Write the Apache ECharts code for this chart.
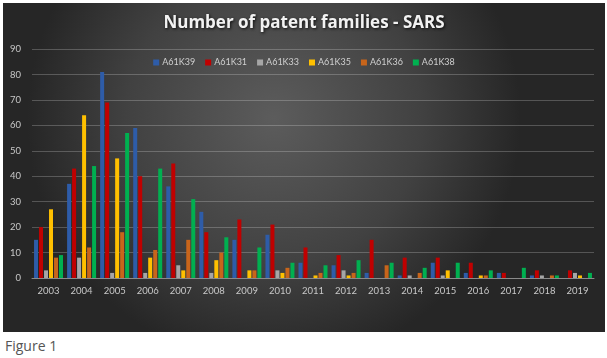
<!DOCTYPE html>
<html><head><meta charset="utf-8">
<script src="https://cdn.jsdelivr.net/npm/echarts@6/dist/echarts.min.js"></script>
<style>
html,body{margin:0;padding:0;background:#fff;width:607px;height:358px;overflow:hidden;}
#chart{position:absolute;left:3px;top:3px;width:602px;height:329px;}
#cap{position:absolute;left:5px;top:336px;font-family:"Open Sans",sans-serif;font-size:14px;color:#555;}
</style></head>
<body>
<div id="chart"></div>
<div id="cap">Figure 1</div>
<script>
const years = ['2003','2004','2005','2006','2007','2008','2009','2010','2011','2012','2013','2014','2015','2016','2017','2018','2019'];
const seriesNames = ['A61K39','A61K31','A61K33','A61K35','A61K36','A61K38'];
const A61K39 = [15,37,81,59,36,26,15,17,6,5,2,1,6,2,2,1,0];
const A61K31 = [20,43,69,40,45,18,23,21,12,9,15,8,8,6,2,3,3];
const A61K33 = [3,8,2,2,5,2,0,3,0,3,0,1,1,0,0,1,2];
const A61K35 = [27,64,47,8,3,7,3,2,1,1,0,0,3,1,0,0,1];
const A61K36 = [8,12,18,11,15,10,3,4,2,2,5,2,0,1,0,1,0];
const A61K38 = [9,44,57,43,31,16,12,6,5,7,6,4,6,3,4,1,2];
const yTicks = [0,10,20,30,40,50,60,70,80,90];
const colors = ['#2E5CA8','#C00000','#A6A6A6','#FFC000','#C8651B','#00B050'];
const dataAll = [A61K39,A61K31,A61K33,A61K35,A61K36,A61K38];

const chart = echarts.init(document.getElementById('chart'));
chart.setOption({
  backgroundColor: {
    type:'radial', x:0.45, y:0.35, r:0.75,
    colorStops:[{offset:0,color:'#5c5c5c'},{offset:0.6,color:'#414141'},{offset:1,color:'#262626'}]
  },
  animation:false,
  title:{
    text:'Number of patent families - SARS', left:'center', top:7,
    textStyle:{color:'#f2f2f2', fontFamily:'Open Sans', fontWeight:'bold', fontSize:17,
      textShadowColor:'rgba(0,0,0,0.8)', textShadowBlur:3, textShadowOffsetX:1, textShadowOffsetY:1}
  },
  legend:{
    data:seriesNames, top:50, left:'center', icon:'rect', itemWidth:6, itemHeight:6, itemGap:10,
    textStyle:{color:'#d0d0d0', fontFamily:'Lato', fontSize:9, padding:[0,0,0,-2]}
  },
  grid:{left:29, right:11, top:46, bottom:54, containLabel:false},
  xAxis:{
    type:'category', data:years,
    axisLine:{lineStyle:{color:'#8a8a8a', width:1}},
    axisTick:{show:false},
    axisLabel:{color:'#c8c8c8', fontFamily:'Lato', fontSize:9.5, margin:8}
  },
  yAxis:{
    type:'value', min:0, max:90, interval:10,
    axisLine:{show:false}, axisTick:{show:false},
    axisLabel:{color:'#c8c8c8', fontFamily:'Lato', fontSize:9.5, margin:11,
      formatter:v => yTicks.includes(v) ? String(v) : ''},
    splitLine:{lineStyle:{color:'rgba(255,255,255,0.22)', width:1}}
  },
  series: seriesNames.map((n,i)=>({
    name:n, type:'bar', data:dataAll[i], barWidth:4, barGap:'25%',
    itemStyle:{color:colors[i]}
  }))
});
</script>
</body></html>
